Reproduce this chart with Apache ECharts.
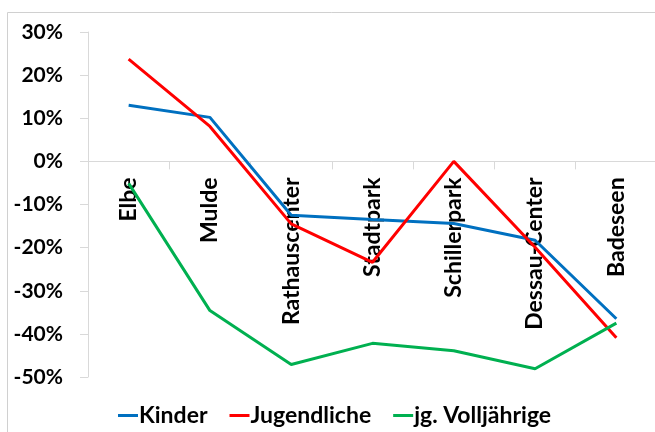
<!DOCTYPE html>
<html>
<head>
<meta charset="utf-8">
<script src="https://cdn.jsdelivr.net/npm/echarts@6/dist/echarts.min.js"></script>
<style>
  html, body { margin: 0; padding: 0; background: #fff; }
  #chart { width: 655px; height: 432px; }
</style>
</head>
<body>
<div id="chart"></div>
<script>
// Locations along the river and town
const categories = ['Elbe', 'Mulde', 'Rathauscenter', 'Stadtpark', 'Schillerpark', 'Dessau-Center', 'Badeseen'];

// Change in percent per age group
const kinder = [13, 10.2, -12.5, -13.5, -14.4, -18.3, -36.5];
const jugendliche = [23.7, 8.1, -14.5, -23.4, 0, -19.9, -40.9];
const volljaehrige = [-5.1, -34.6, -47.1, -42.2, -43.9, -48.1, -37.5];

// Y axis ticks
const yMin = -50, yMax = 30, yStep = 10;

const FONT = 'Lato, "Open Sans", sans-serif';
const GRID_TOP = 32, GRID_H = 345;
// distance from the bottom edge of the plot up to the 0% line
const zeroOffset = GRID_H * (0 - yMin) / (yMax - yMin);

const chart = echarts.init(document.getElementById('chart'), null, { renderer: 'canvas' });

function lineSeries(name, data, color) {
  return {
    name: name,
    type: 'line',
    data: data,
    symbol: 'none',
    lineStyle: { width: 3, color: color },
    itemStyle: { color: color }
  };
}

chart.setOption({
  animation: false,
  backgroundColor: '#ffffff',
  graphic: [{
    type: 'rect',
    shape: { x: 7.5, y: 12.5, width: 700, height: 500 },
    style: { fill: 'none', stroke: '#d0d0d0', lineWidth: 1 },
    silent: true,
    z: -1
  }],
  grid: { left: 88, top: GRID_TOP, width: 569, height: GRID_H, containLabel: false, outerBoundsMode: 'none' },
  legend: {
    top: 399,
    left: 113,
    itemWidth: 20,
    itemHeight: 3,
    itemGap: 22,
    icon: 'rect',
    textStyle: { fontFamily: FONT, fontWeight: 'bold', fontSize: 23, color: '#000', padding: [0, 0, 0, -4] },
    data: ['Kinder', 'Jugendliche', 'jg. Volljährige']
  },
  xAxis: {
    type: 'category',
    data: categories,
    boundaryGap: true,
    offset: -zeroOffset,
    axisLine: { onZero: false, lineStyle: { color: '#d9d9d9', width: 1 } },
    axisTick: { show: true, length: 8, lineStyle: { color: '#d9d9d9' } },
    axisLabel: {
      rotate: 90,
      margin: 16,
      fontFamily: FONT,
      fontSize: 23,
      fontWeight: 'bold',
      color: '#000'
    },
    splitLine: { show: false }
  },
  yAxis: {
    type: 'value',
    min: yMin,
    max: yMax,
    interval: yStep,
    axisLine: { show: true, lineStyle: { color: '#d9d9d9', width: 1 } },
    axisTick: { show: true, length: 8, lineStyle: { color: '#d9d9d9' } },
    splitLine: { show: false },
    axisLabel: {
      margin: 25,
      fontFamily: FONT,
      fontSize: 21,
      fontWeight: 'bold',
      color: '#000',
      formatter: v => v + '%'
    }
  },
  series: [
    lineSeries('Kinder', kinder, '#0070C0'),
    lineSeries('Jugendliche', jugendliche, '#FF0000'),
    lineSeries('jg. Volljährige', volljaehrige, '#00B050')
  ]
});
</script>
</body>
</html>
